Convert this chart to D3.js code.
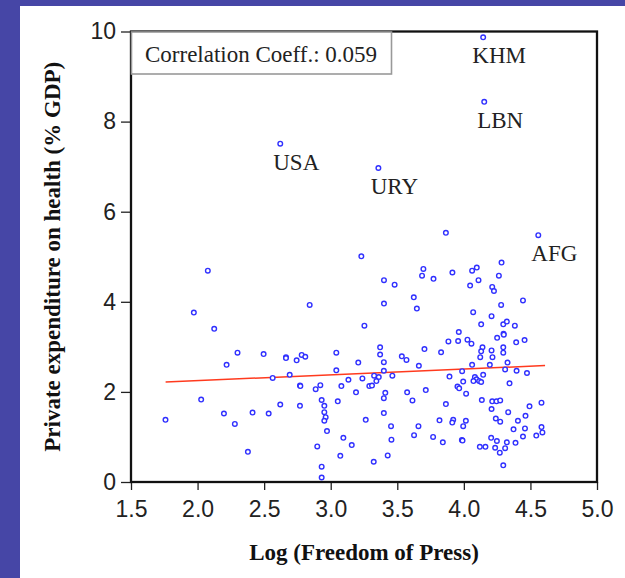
<!DOCTYPE html>
<html>
<head>
<meta charset="utf-8">
<script src="https://cdn.jsdelivr.net/npm/d3@7"></script>
<style>
  html, body { margin: 0; padding: 0; background: #4646a6; }
  svg { display: block; }
</style>
</head>
<body>
<script>
// ---- data ----
const freedomLog = [
  1.759,1.972,2.077,2.125,2.027,2.198,2.218,2.30,2.28,2.378,2.413,2.496,2.534,2.564,2.621,2.664,2.664,2.692,2.744,2.782,
  2.809,2.769,2.772,2.769,2.842,2.887,2.922,2.932,2.952,2.952,2.962,2.952,2.972,2.899,2.932,2.932,
  3.865,3.23,4.283,3.914,4.062,4.097,4.263,3.696,3.686,3.772,3.40,3.48,4.11,4.047,4.213,4.226,3.40,3.624,3.647,4.444,
  4.28,4.07,4.208,3.253,4.13,4.296,4.323,4.383,3.962,4.298,4.30,4.25,3.884,3.957,4.027,4.057,4.393,4.456,3.371,3.371,
  3.704,3.829,4.14,4.13,4.208,4.296,4.296,4.123,4.215,3.042,3.534,3.569,3.399,3.207,3.662,4.062,4.195,4.328,3.042,3.399,
  3.987,4.31,4.396,4.474,3.326,3.361,3.343,3.463,3.238,3.133,3.892,4.083,4.095,4.115,4.13,4.145,4.072,3.995,4.343,3.29,
  3.31,3.08,3.952,3.965,4.017,3.19,3.41,3.399,3.574,3.714,3.614,3.053,3.865,4.135,4.213,4.245,4.273,4.583,4.493,4.208,
  4.333,3.399,3.263,3.817,3.92,3.913,4.015,3.995,4.24,4.273,4.406,4.463,3.453,3.659,4.373,4.459,4.583,4.59,4.544,4.444,
  3.095,3.456,3.626,3.769,3.842,3.985,3.99,4.205,4.248,4.323,4.388,4.12,4.162,4.235,4.31,4.27,3.158,3.072,3.428,3.323,
  4.296
];
const privateHealth = [
  1.38,3.76,4.69,3.40,1.83,1.52,2.60,2.87,1.29,0.67,1.54,2.84,1.52,2.31,1.72,2.77,2.75,2.38,2.70,2.82,
  2.78,2.14,2.13,1.69,3.93,2.06,2.15,1.82,1.69,1.55,1.44,1.36,1.13,0.79,0.34,0.10,
  5.53,5.01,4.87,4.65,4.69,4.76,4.58,4.73,4.58,4.51,4.48,4.38,4.48,4.36,4.33,4.24,3.96,4.10,3.85,4.03,
  3.93,3.77,3.68,3.47,3.50,3.50,3.56,3.47,3.33,3.29,3.27,3.20,3.12,3.13,3.16,3.07,3.10,3.15,2.99,2.83,
  2.95,2.88,2.99,2.90,2.92,2.99,2.87,2.77,2.77,2.87,2.79,2.71,2.66,2.65,2.58,2.60,2.60,2.65,2.48,2.47,
  2.46,2.50,2.47,2.42,2.36,2.33,2.24,2.36,2.30,2.27,2.34,2.33,2.28,2.24,2.22,2.38,2.24,2.23,2.19,2.13,
  2.14,2.13,2.12,2.08,1.96,1.99,1.98,1.86,1.99,2.04,1.81,1.79,1.73,1.82,1.79,1.79,1.81,1.76,1.68,1.62,
  1.55,1.53,1.38,1.37,1.38,1.32,1.36,1.24,1.41,1.34,1.36,1.47,1.24,1.24,1.17,1.19,1.22,1.10,1.03,1.01,
  0.98,0.94,1.04,1.00,0.88,0.93,0.92,0.98,0.91,0.88,0.87,0.78,0.78,0.76,0.75,0.65,0.82,0.58,0.59,0.45,
  0.37
];
const labelCodes = ["KHM", "LBN", "USA", "URY", "AFG"];
const labelX = [4.145, 4.153, 2.621, 3.358, 4.559];
const labelY = [9.87, 8.44, 7.51, 6.97, 5.48];
const fitX = [1.76, 4.61];
const fitY = [2.22, 2.585];
const xTicks = [1.5, 2.0, 2.5, 3.0, 3.5, 4.0, 4.5, 5.0];
const yTicks = [0, 2, 4, 6, 8, 10];
const corrText = "Correlation Coeff.: 0.059";
const xTitle = "Log (Freedom of Press)";
const yTitle = "Private expenditure on health (% GDP)";

(function () {
const W = 625, H = 578;
const svg = d3.select("body").append("svg").attr("width", W).attr("height", H);

svg.append("rect").attr("x", 0).attr("y", 0).attr("width", W).attr("height", H).attr("fill", "#4646a6");
svg.append("rect").attr("x", 20).attr("y", 6).attr("width", W - 20).attr("height", H - 6).attr("fill", "#ffffff");

const mL = 131, mR = 597, mT = 31.5, mB = 482;
const x = d3.scaleLinear().domain([1.5, 5.0]).range([mL, mR]);
const y = d3.scaleLinear().domain([0, 10]).range([mB, mT]);

const sans = "'Liberation Sans', Arial, sans-serif";
const serif = "'Liberation Serif', 'Times New Roman', serif";

const gx = svg.append("g").attr("transform", `translate(0,${mB})`)
  .call(d3.axisBottom(x).tickValues(xTicks).tickFormat(d3.format(".1f")).tickSize(8).tickSizeOuter(0).tickPadding(11));
const gy = svg.append("g").attr("transform", `translate(${mL},0)`)
  .call(d3.axisLeft(y).tickValues(yTicks).tickFormat(d3.format("d")).tickSize(10).tickSizeOuter(0).tickPadding(5));
[gx, gy].forEach(g => {
  g.select(".domain").remove();
  g.selectAll(".tick line").attr("stroke", "#222").attr("stroke-width", 1.3);
  g.selectAll(".tick text").attr("fill", "#222").style("font-family", sans).style("font-size", "23px");
});

svg.append("rect").attr("x", mL).attr("y", mT).attr("width", mR - mL).attr("height", mB - mT)
  .attr("fill", "none").attr("stroke", "#111").attr("stroke-width", 2.3);

svg.append("rect").attr("x", mL + 0.5).attr("y", mT + 0.5).attr("width", 260).attr("height", 42)
  .attr("fill", "#fff").attr("stroke", "#999").attr("stroke-width", 1.6);
svg.append("text").attr("x", 145).attr("y", 62).text(corrText)
  .attr("fill", "#222").style("font-family", serif).style("font-size", "23px");

svg.append("line")
  .attr("x1", x(fitX[0])).attr("y1", y(fitY[0]))
  .attr("x2", x(fitX[1])).attr("y2", y(fitY[1]))
  .attr("stroke", "#ff3a1e").attr("stroke-width", 1.5);

const pts = freedomLog.map((v, i) => ({ x: v, y: privateHealth[i] }));
const lab = labelCodes.map((c, i) => ({ code: c, x: labelX[i], y: labelY[i] }));
const ptStyle = sel => sel.attr("r", 2.3).attr("fill", "#fff").attr("stroke", "#3030ff").attr("stroke-width", 1.4);
svg.append("g").selectAll("circle").data(pts).join("circle")
  .attr("cx", d => x(d.x)).attr("cy", d => y(d.y)).call(ptStyle);
svg.append("g").selectAll("circle").data(lab).join("circle")
  .attr("cx", d => x(d.x)).attr("cy", d => y(d.y)).call(ptStyle);
svg.append("g").selectAll("text").data(lab).join("text")
  .attr("x", d => x(d.x) + 16).attr("y", d => y(d.y) + 26)
  .attr("text-anchor", "middle").attr("fill", "#222")
  .style("font-family", serif).style("font-size", "23px")
  .text(d => d.code);

svg.append("text").attr("x", (mL + mR) / 2).attr("y", 560).attr("text-anchor", "middle")
  .attr("fill", "#111").style("font-family", serif).style("font-weight", "bold").style("font-size", "23px")
  .text(xTitle);
svg.append("text").attr("transform", `translate(60,${(mT + mB) / 2}) rotate(-90)`)
  .attr("text-anchor", "middle").attr("fill", "#111")
  .style("font-family", serif).style("font-weight", "bold").style("font-size", "23px")
  .text(yTitle);
})();
</script>
</body>
</html>
